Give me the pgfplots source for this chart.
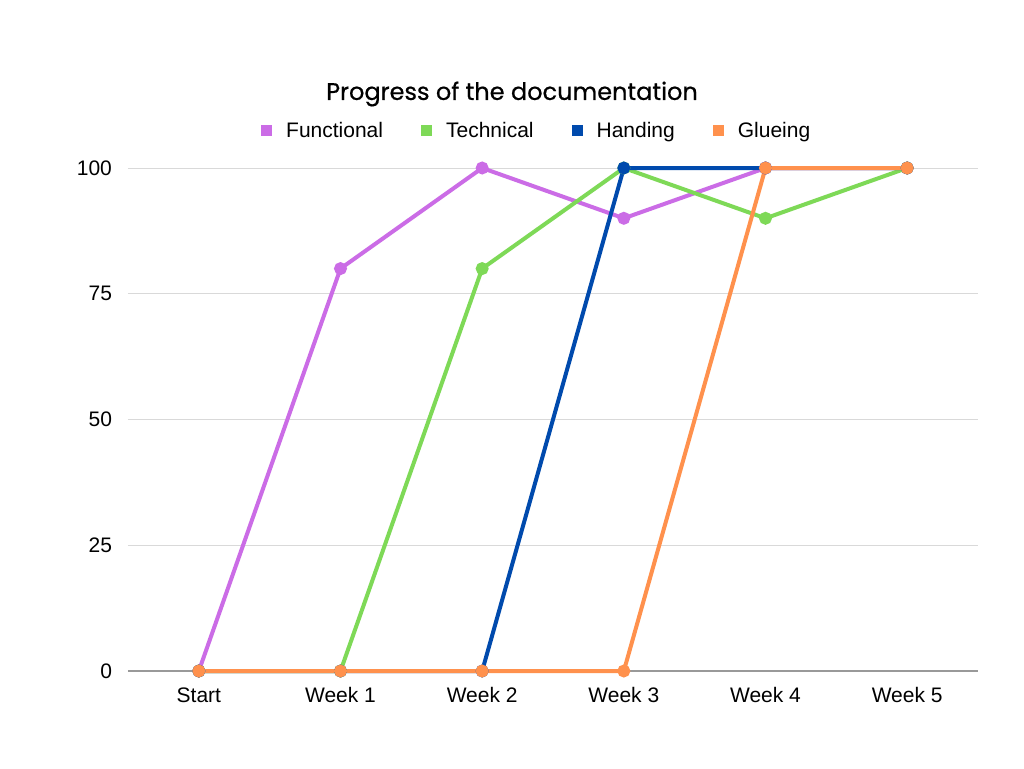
\documentclass[border=0pt]{standalone}
\usepackage{pgfplots}
\pgfplotsset{compat=1.18}
\usepackage{fontspec}
\setmainfont{Liberation Sans}
\newfontfamily\titlefont[FakeBold=0.6]{Poppins}

\definecolor{cFun}{HTML}{CB6CE6}
\definecolor{cTec}{HTML}{7ED957}
\definecolor{cHan}{HTML}{004AAD}
\definecolor{cGlu}{HTML}{FF914D}
\definecolor{gridgray}{HTML}{D9D9D9}

\begin{document}
\begin{tikzpicture}
\path[use as bounding box, fill=white] (0,0) rectangle (512pt,384pt);
\node[font=\titlefont\fontsize{12}{14}\selectfont] at (256pt,337pt) {Progress of the documentation};
\begin{axis}[
    at={(64pt,48.5pt)}, anchor=south west,
    scale only axis,
    width=425pt, height=251.5pt,
    xmin=-0.5, xmax=5.5,
    ymin=0, ymax=100,
    xtick={0,1,2,3,4,5},
    xticklabels={Start,Week 1,Week 2,Week 3,Week 4,Week 5},
    ytick={0,25,50,75,100},
    /pgf/number format/assume math mode=true,
    tick label style={font=\fontsize{10.5}{12}\selectfont},
    major tick length=0pt,
    ymajorgrids,
    grid style={gridgray, line width=0.5pt},
    axis line style={draw=none},
    yticklabel style={xshift=-4.5pt},
    xticklabel style={yshift=-4pt, text height=8pt, text depth=2pt},
    clip=false,
    legend columns=4,
    legend style={at={(0.482,1.0736)}, anchor=center, draw=none, fill=none,
        font=\fontsize{10.5}{12}\selectfont,
        /tikz/every odd column/.append style={column sep=5pt},
        /tikz/every even column/.append style={column sep=17pt}},
    legend image code/.code={\fill[#1, draw=none] (0pt,-2.75pt) rectangle (5.5pt,2.75pt);},
    every axis plot/.append style={line width=2pt, mark=*, mark size=2.2pt},
]
\draw[gray!80, line width=0.6pt] (axis cs:-0.5,0) -- (axis cs:5.5,0);

\addplot[cFun, mark options={fill=cFun}] coordinates {
    (0,0) (1,80) (2,100) (3,90) (4,100) (5,100)
};
\addlegendentry{Functional}

\addplot[cTec, mark options={fill=cTec}] coordinates {
    (0,0) (1,0) (2,80) (3,100) (4,90) (5,100)
};
\addlegendentry{Technical}

\addplot[cHan, mark options={fill=cHan}] coordinates {
    (0,0) (1,0) (2,0) (3,100) (4,100) (5,100)
};
\addlegendentry{Handing}

\addplot[cGlu, mark options={fill=cGlu}] coordinates {
    (0,0) (1,0) (2,0) (3,0) (4,100) (5,100)
};
\addlegendentry{Glueing}

\end{axis}
\end{tikzpicture}
\end{document}
